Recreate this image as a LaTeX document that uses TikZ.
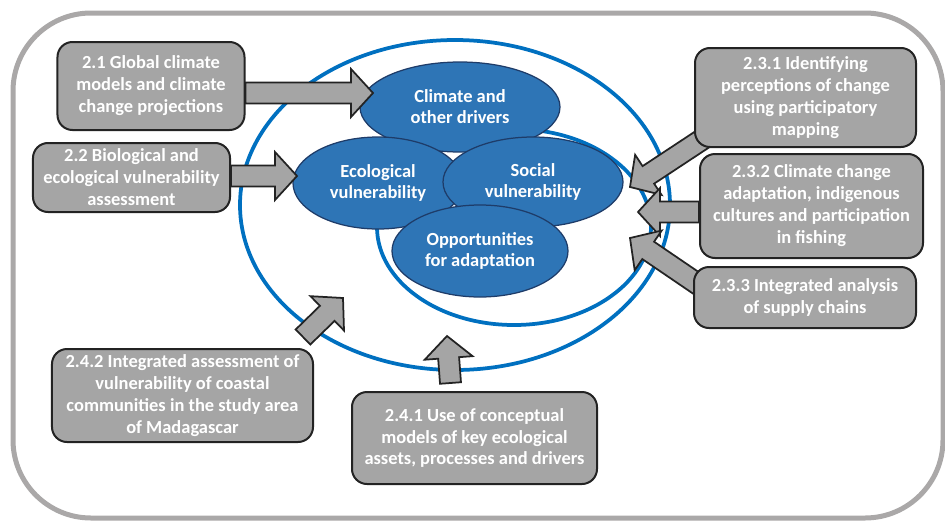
\documentclass[tikz,border=0pt]{standalone}
\usepackage{fontspec}
\setmainfont{Carlito}
\usetikzlibrary{shapes.geometric,calc}
\definecolor{ringblue}{RGB}{0,112,192}
\definecolor{ellblue}{RGB}{46,117,182}
\definecolor{ellline}{RGB}{30,60,105}
\definecolor{boxgray}{RGB}{165,165,165}
\definecolor{boxline}{RGB}{35,35,35}
\definecolor{framegray}{RGB}{170,168,168}
\pgfdeclarelayer{front}
\pgfsetlayers{main,front}
\tikzset{
  task/.style={draw=boxline, line width=0.4mm, fill=boxgray, rounded corners=3mm,
    text=white, font=\bfseries\fontsize{10.5}{12.5}\selectfont, align=center, inner sep=0pt},
  theme/.style={ellipse, draw=ellline, line width=0.25mm, fill=ellblue,
    text=white, font=\bfseries\fontsize{10.5}{12}\selectfont, align=center, inner sep=0pt},
  ring/.style={draw=ringblue, line width=0.75mm},
  blockarrow/.style={draw=boxline, line width=0.35mm, fill=boxgray, line join=miter}
}
% block arrow, tail #1, tip #2
\newcommand\blockarr[2]{%
  \coordinate (tl) at (#1);
  \coordinate (tp) at (#2);
  \coordinate (hb) at ($(tp)!4.4mm!(tl)$);
  \path[blockarrow] ($(tl)!2.1mm!90:(tp)$) -- ($(hb)!2.1mm!90:(tp)$) -- ($(hb)!4.8mm!90:(tp)$)
    -- (tp) -- ($(hb)!4.8mm!-90:(tp)$) -- ($(hb)!2.1mm!-90:(tp)$) -- ($(tl)!2.1mm!-90:(tp)$) -- cycle;
}

\begin{document}
\begin{tikzpicture}[x=0.2mm,y=-0.2mm]
\useasboundingbox (0,0) rectangle (945,523);
% Frame
\path[draw=framegray,line width=1mm,rounded corners=15.6mm] (13,13) rectangle (943,518);
% Rings
\path[ring] (455,205) ellipse [x radius=43mm, y radius=33mm];
\path[ring] (514,227) ellipse [x radius=27.4mm, y radius=19.6mm];
% Themes
\node[theme,minimum width=40mm,minimum height=18mm] (climate) at (460,107) {Climate and\\other drivers};
\node[theme,minimum width=34mm,minimum height=18.4mm] (eco) at (378,183) {Ecological\\vulnerability};
\node[theme,minimum width=36mm,minimum height=18mm] (social) at (533,182) {Social\\vulnerability};
\node[theme,minimum width=35.2mm,minimum height=18.4mm] (opp) at (480,251) {Opportunities\\for adaptation};
% Tasks
\begin{pgfonlayer}{front}
\node[task,minimum width=37.4mm,minimum height=17.6mm] (b21) at (151,86) {2.1 Global climate\\models and climate\\change projections};
\node[task,minimum width=39.4mm,minimum height=13.8mm] (b22) at (131.5,177.5) {2.2 Biological and\\ecological vulnerability\\assessment};
\node[task,minimum width=44.2mm,minimum height=19.8mm] (b231) at (805.5,97.5) {2.3.1 Identifying\\perceptions of change\\using participatory\\mapping};
\node[task,minimum width=44.6mm,minimum height=20.8mm] (b232) at (811.5,206) {2.3.2 Climate change\\adaptation, indigenous\\cultures and participation\\in fishing};
\node[task,minimum width=44.4mm,minimum height=12.2mm] (b233) at (805,297.5) {2.3.3 Integrated analysis\\of supply chains};
\node[task,minimum width=52.2mm,minimum height=18.6mm] (b242) at (182.5,395.5) {2.4.2 Integrated assessment of\\vulnerability of coastal\\communities in the study area\\of Madagascar};
\node[task,minimum width=49mm,minimum height=18.4mm] (b241) at (474.5,438) {2.4.1 Use of conceptual\\models of key ecological\\assets, processes and drivers};
\end{pgfonlayer}
% Arrow tips
\coordinate (t21) at (373,93);
\coordinate (t22) at (297,176);
\coordinate (t231) at (630,187);
\coordinate (t232) at (638,212);
\coordinate (t233) at (630,238);
\coordinate (t242) at (343,298);
\coordinate (t241) at (447,336);
% Arrows
\blockarr{b21.east |- t21}{t21}
\blockarr{b22.east |- t22}{t22}
\blockarr{$(b231.south west)+(30,-23)$}{t231}
\blockarr{b232.west |- t232}{t232}
\blockarr{$(b233.west)+(20,-3)$}{t233}
\blockarr{$(b242.north east)+(-11,-11)$}{t242}
\blockarr{$(b241.north)+(-24,-8)$}{t241}
\end{tikzpicture}
\end{document}
